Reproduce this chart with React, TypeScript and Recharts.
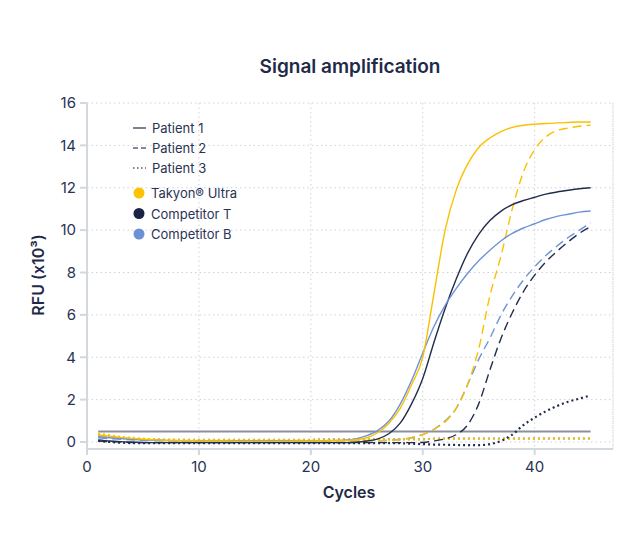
import {
  LineChart,
  Line,
  XAxis,
  YAxis,
  CartesianGrid,
  ReferenceLine,
} from "recharts";

const FONT = "Inter, 'Noto Sans', sans-serif";
const YELLOW = "#f8c100";
const NAVY = "#222c4e";
const BLUE = "#6e93d6";
const TEXT = "#2a3354";
const AXIS = "#d3d7de";

const SOLID = undefined;
const DASH = "9 5";
const DOT = "2 3";

const cycles = [
  1, 2, 3, 4, 5, 6, 7, 8, 9, 10, 11, 12, 13, 14, 15, 16, 17, 18, 19, 20, 21,
  22, 23, 24, 25, 26, 27, 28, 29, 30, 31, 32, 33, 34, 35, 36, 37, 38, 39, 40,
  41, 42, 43, 44, 45,
];

const xTicks = [0, 10, 20, 30, 40];
const yTicks = [0, 2, 4, 6, 8, 10, 12, 14, 16];
const threshold = 0.5;

// Patient 1 (solid)
const takyonP1 = [
  0.35, 0.28, 0.22, 0.17, 0.13, 0.1, 0.08, 0.07, 0.06, 0.05,
  0.05, 0.05, 0.04, 0.04, 0.04, 0.04, 0.04, 0.04, 0.05, 0.05,
  0.05, 0.06, 0.07, 0.11, 0.2, 0.45, 0.9, 1.6, 2.7, 4.0,
  7.0, 10.0, 11.9, 13.1, 13.9, 14.35, 14.65, 14.85, 14.95, 15.0,
  15.03, 15.06, 15.08, 15.1, 15.1,
];
const compTP1 = [
  0.1, 0.05, 0.02, 0, -0.02, -0.03, -0.03, -0.03, -0.03, -0.03,
  -0.03, -0.03, -0.03, -0.03, -0.03, -0.03, -0.03, -0.03, -0.03, -0.03,
  -0.03, -0.03, -0.03, -0.01, 0.05, 0.15, 0.4, 0.9, 1.8, 3.0,
  4.7, 6.3, 7.7, 8.9, 9.8, 10.45, 10.9, 11.2, 11.4, 11.55,
  11.7, 11.8, 11.88, 11.95, 12.0,
];
const compBP1 = [
  0.25, 0.2, 0.16, 0.13, 0.1, 0.08, 0.07, 0.06, 0.06, 0.06,
  0.06, 0.06, 0.06, 0.06, 0.06, 0.06, 0.06, 0.06, 0.06, 0.06,
  0.06, 0.07, 0.09, 0.15, 0.3, 0.55, 1.0, 1.8, 2.9, 4.2,
  5.45, 6.45, 7.25, 7.95, 8.55, 9.05, 9.5, 9.85, 10.1, 10.3,
  10.5, 10.65, 10.75, 10.85, 10.9,
];

// Patient 2 (dashed)
const takyonP2 = [
  0.3, 0.25, 0.2, 0.15, 0.12, 0.1, 0.08, 0.07, 0.07, 0.07,
  0.07, 0.07, 0.07, 0.07, 0.07, 0.07, 0.07, 0.07, 0.07, 0.07,
  0.07, 0.07, 0.07, 0.07, 0.07, 0.07, 0.08, 0.11, 0.2, 0.35,
  0.6, 0.95, 1.6, 2.7, 4.4, 6.9, 8.8, 11.0, 12.75, 13.8,
  14.4, 14.7, 14.82, 14.9, 14.95,
];
const compTP2 = [
  0.05, 0.02, 0, -0.03, -0.03, -0.03, -0.03, -0.03, -0.03, -0.03,
  -0.03, -0.03, -0.03, -0.03, -0.03, -0.03, -0.03, -0.03, -0.03, -0.03,
  -0.03, -0.03, -0.03, -0.03, -0.03, -0.03, -0.03, -0.03, -0.03, -0.02,
  0.05, 0.15, 0.35, 0.8, 1.8, 3.4, 4.9, 6.1, 7.1, 7.88,
  8.5, 9.0, 9.45, 9.85, 10.16,
];
const compBP2 = [
  0.2, 0.16, 0.13, 0.1, 0.08, 0.06, 0.06, 0.06, 0.06, 0.06,
  0.06, 0.06, 0.06, 0.06, 0.06, 0.06, 0.06, 0.06, 0.06, 0.06,
  0.06, 0.06, 0.06, 0.06, 0.06, 0.06, 0.08, 0.12, 0.2, 0.35,
  0.6, 1.0, 1.6, 2.7, 3.9, 4.9, 6.0, 6.9, 7.65, 8.27,
  8.8, 9.25, 9.65, 10.0, 10.35,
];

// Patient 3 (dotted)
const takyonP3 = [
  0.4, 0.32, 0.25, 0.2, 0.16, 0.13, 0.12, 0.11, 0.1, 0.1,
  0.1, 0.1, 0.1, 0.1, 0.1, 0.1, 0.1, 0.1, 0.1, 0.1,
  0.12, 0.12, 0.12, 0.12, 0.12, 0.12, 0.12, 0.12, 0.12, 0.12,
  0.15, 0.15, 0.15, 0.15, 0.15, 0.15, 0.15, 0.15, 0.15, 0.15,
  0.17, 0.17, 0.17, 0.17, 0.17,
];
const compTP3 = [
  0.05, 0, -0.03, -0.05, -0.05, -0.05, -0.05, -0.05, -0.05, -0.05,
  -0.05, -0.05, -0.05, -0.05, -0.05, -0.05, -0.05, -0.05, -0.05, -0.05,
  -0.05, -0.05, -0.05, -0.05, -0.05, -0.05, -0.05, -0.06, -0.08, -0.1,
  -0.12, -0.13, -0.14, -0.15, -0.15, -0.1, 0.05, 0.35, 0.8, 1.15,
  1.45, 1.7, 1.9, 2.05, 2.2,
];
const compBP3 = [
  0.3, 0.24, 0.19, 0.15, 0.13, 0.12, 0.11, 0.11, 0.11, 0.11,
  0.11, 0.11, 0.11, 0.11, 0.11, 0.11, 0.11, 0.11, 0.11, 0.11,
  0.13, 0.13, 0.13, 0.13, 0.13, 0.13, 0.13, 0.13, 0.13, 0.13,
  0.16, 0.16, 0.16, 0.16, 0.16, 0.16, 0.16, 0.16, 0.16, 0.16,
  0.16, 0.16, 0.16, 0.16, 0.16,
];

const rows = cycles.map((c, i) => ({
  cycle: c,
  takyonP1: takyonP1[i],
  compTP1: compTP1[i],
  compBP1: compBP1[i],
  takyonP2: takyonP2[i],
  compTP2: compTP2[i],
  compBP2: compBP2[i],
  takyonP3: takyonP3[i],
  compTP3: compTP3[i],
  compBP3: compBP3[i],
}));

// drawing order: dotted first, solid last
const series = [
  { key: "compBP3", color: BLUE, dash: DOT, width: 2 },
  { key: "takyonP3", color: YELLOW, dash: DOT, width: 2 },
  { key: "compTP3", color: NAVY, dash: DOT, width: 2.2 },
  { key: "compTP2", color: NAVY, dash: DASH, width: 1.4 },
  { key: "compBP2", color: BLUE, dash: DASH, width: 1.4 },
  { key: "takyonP2", color: YELLOW, dash: DASH, width: 1.4 },
  { key: "compTP1", color: NAVY, dash: SOLID, width: 1.4 },
  { key: "compBP1", color: BLUE, dash: SOLID, width: 1.4 },
  { key: "takyonP1", color: YELLOW, dash: SOLID, width: 1.4 },
];

const patientItems = [
  { label: "Patient 1", dash: SOLID },
  { label: "Patient 2", dash: "5 3" },
  { label: "Patient 3", dash: "1.6 2.4" },
];
const productItems = [
  { label: "Takyon® Ultra", color: "#fdc300" },
  { label: "Competitor T", color: "#1b2444" },
  { label: "Competitor B", color: "#6b90d3" },
];

function LegendBox() {
  return (
    <svg
      width={150}
      height={132}
      style={{ position: "absolute", left: 125, top: 115, pointerEvents: "none" }}
    >
      {patientItems.map((p, i) => (
        <g key={p.label}>
          <line
            x1={8}
            x2={21}
            y1={13 + i * 20}
            y2={13 + i * 20}
            stroke="#5d6276"
            strokeWidth={1.6}
            strokeDasharray={p.dash}
          />
          <text
            x={27}
            y={13 + i * 20}
            dominantBaseline="central"
            fontSize={13}
            fontFamily={FONT}
            fill={TEXT}
          >
            {p.label}
          </text>
        </g>
      ))}
      {productItems.map((p, i) => (
        <g key={p.label}>
          <circle cx={14} cy={78 + i * 20.5} r={5.5} fill={p.color} />
          <text
            x={26}
            y={78 + i * 20.5}
            dominantBaseline="central"
            fontSize={13}
            fontFamily={FONT}
            fill={TEXT}
          >
            {p.label}
          </text>
        </g>
      ))}
    </svg>
  );
}

export default function App() {
  return (
    <div style={{ position: "absolute", left: 0, top: 0, width: 640, height: 559, background: "#fff" }}>
      <LineChart
        width={640}
        height={559}
        data={rows}
        margin={{ top: 103, right: 27, bottom: 80, left: 27 }}
      >
        <CartesianGrid stroke="#cfd1d6" strokeDasharray="1.5 3" />
        <XAxis
          dataKey="cycle"
          type="number"
          domain={[0, 47]}
          ticks={xTicks}
          height={30}
          stroke={AXIS}
          strokeWidth={2}
          tickSize={6}
          tickMargin={6}
          tick={{ fill: TEXT, fontSize: 15, fontFamily: FONT }}
        />
        <YAxis
          type="number"
          domain={[-0.33, 16]}
          ticks={yTicks}
          width={60}
          stroke={AXIS}
          strokeWidth={2}
          tickSize={7}
          tickMargin={4}
          tick={{ fill: TEXT, fontSize: 15, fontFamily: FONT }}
        />
        <ReferenceLine x={47} stroke="#cfd1d6" strokeDasharray="1.5 3" />
        <ReferenceLine
          segment={[
            { x: 1, y: threshold },
            { x: 45, y: threshold },
          ]}
          stroke="#8c909b"
          strokeWidth={2}
        />
        {series.map((s) => (
          <Line
            key={s.key}
            dataKey={s.key}
            type="monotone"
            stroke={s.color}
            strokeWidth={s.width}
            strokeDasharray={s.dash}
            dot={false}
            activeDot={false}
            isAnimationActive={false}
          />
        ))}
      </LineChart>
      <LegendBox />
      <svg
        width={640}
        height={559}
        style={{ position: "absolute", left: 0, top: 0, pointerEvents: "none" }}
      >
        <text
          x={350}
          y={66}
          textAnchor="middle"
          dominantBaseline="central"
          fontSize={19}
          fontWeight={600}
          fontFamily={FONT}
          fill="#1f2a48"
        >
          Signal amplification
        </text>
        <text
          x={38}
          y={275}
          textAnchor="middle"
          dominantBaseline="central"
          fontSize={16}
          fontWeight={600}
          fontFamily={FONT}
          fill="#1f2a48"
          transform="rotate(-90 38 275)"
        >
          RFU (x10³)
        </text>
        <text
          x={349}
          y={492}
          textAnchor="middle"
          dominantBaseline="central"
          fontSize={16}
          fontWeight={600}
          fontFamily={FONT}
          fill="#1f2a48"
        >
          Cycles
        </text>
      </svg>
    </div>
  );
}
